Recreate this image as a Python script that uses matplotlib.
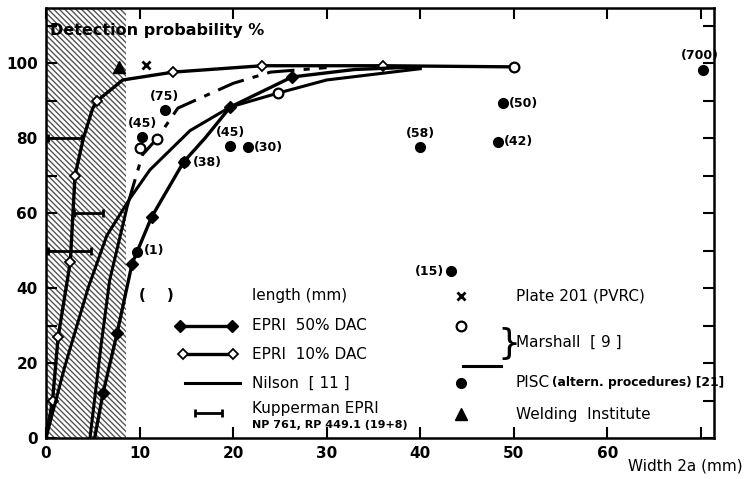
import numpy as np
import matplotlib
matplotlib.use('Agg')
from matplotlib import pyplot as plt

# curves (width 2a in mm, detection probability %)
epri10_x = [0, 0.7, 1.3, 2.6, 3.1, 4.0, 5.0, 5.5, 8.2, 13.6, 23.1, 36, 50]
epri10_y = [0, 10, 27, 47, 70, 80, 88, 90, 95.5, 97.6, 99.3, 99.3, 99]

epri50_x = [5.2, 6.1, 7.6, 9.2, 11.3, 14.7, 17.0, 19.7, 26.3, 33, 40]
epri50_y = [0, 12, 28, 46.5, 59, 73.6, 80, 88.3, 96.3, 98.3, 99]

nilson_x = [0, 2.0, 4.5, 6.5, 9.0, 11.1, 15.4, 19.7, 24.8, 30, 40]
nilson_y = [0, 19, 40, 54, 64, 71.5, 82, 88.3, 92, 95.5, 98.5]

marsh_solid_x = [4.7, 5.9, 6.8, 8.7]
marsh_solid_y = [0, 25, 42, 62]
marsh_dash_x = [8.7, 10.3, 11.9, 14.1, 20, 24, 30]
marsh_dash_y = [62, 75.5, 80, 88, 94.6, 97.6, 98.8]

marsh_pts_x = [10.1, 11.9, 24.8, 50]
marsh_pts_y = [77.3, 79.7, 92, 99]

pisc_x = [10.3, 12.7, 9.7, 14.7, 19.7, 21.6, 40.0, 48.9, 48.3, 43.3, 70.2]
pisc_y = [80.3, 87.5, 49.6, 73.6, 78.0, 77.6, 77.6, 89.3, 79.0, 44.5, 98.1]
pisc_len = ['(45)', '(75)', '(1)', '(38)', '(45)', '(30)', '(58)', '(50)', '(42)', '(15)', '(700)']

kupp_y = [80, 60, 50]
kupp_lo = [0.2, 3.0, 0.2]
kupp_hi = [3.9, 6.1, 4.8]

plate_x, plate_y = [10.7], [99.5]
weld_x, weld_y = [7.8], [99]

# label placement for the bracketed lengths: (dx, dy, ha, va) in points
lab_pos = [(0, 5, 'center', 'bottom'), (0, 5, 'center', 'bottom'), (5, 1, 'left', 'center'),
           (7, 0, 'left', 'center'), (0, 5, 'center', 'bottom'), (4, 0, 'left', 'center'),
           (0, 5, 'center', 'bottom'), (4, 0, 'left', 'center'), (4, 0, 'left', 'center'),
           (-5, 0, 'right', 'center'), (-2, 6, 'center', 'bottom')]

plt.rcParams['font.family'] = 'DejaVu Sans'
fig = plt.figure(figsize=(7.52, 4.79), dpi=100)
ax = fig.add_axes([46/752, 1-438/479, 668/752, 430/479])
ax.set_xlim(0, 71.4)
ax.set_ylim(0, 114.7)

k = 'black'
ax.axvspan(0, 8.6, facecolor='white', edgecolor='#555555', hatch='\\\\\\\\\\\\', lw=0, zorder=0)

ax.plot(epri10_x, epri10_y, color=k, lw=2.4, marker='D', ms=5, mfc='white', mec=k, mew=1.3,
        markevery=[1, 2, 3, 4, 7, 9, 10, 11], zorder=3)
ax.plot(epri50_x, epri50_y, color=k, lw=2.4, marker='D', ms=6, mfc=k, mec=k,
        markevery=[1, 2, 3, 4, 5, 7, 8], zorder=3)
ax.plot(nilson_x, nilson_y, color=k, lw=2.2, zorder=3)
ax.plot(marsh_solid_x, marsh_solid_y, color=k, lw=2.2, zorder=3)
ax.plot(marsh_dash_x, marsh_dash_y, color=k, lw=2.2, dashes=(9, 3, 2, 3), zorder=3)
ax.plot(marsh_pts_x, marsh_pts_y, 'o', ms=7, mfc='white', mec=k, mew=1.6, zorder=4)

for y, lo, hi in zip(kupp_y, kupp_lo, kupp_hi):
    ax.errorbar((lo+hi)/2, y, xerr=(hi-lo)/2, fmt='none', ecolor=k, elinewidth=2, capsize=3, capthick=2, zorder=3)

ax.plot(pisc_x, pisc_y, 'o', ms=7, color=k, zorder=4)
for x, y, s, (dx, dy, ha, va) in zip(pisc_x, pisc_y, pisc_len, lab_pos):
    ax.annotate(s, (x, y), xytext=(dx, dy), textcoords='offset points', ha=ha, va=va,
                fontsize=9, fontweight='bold', zorder=5)

ax.plot(plate_x, plate_y, 'x', ms=6, mew=2, color=k, zorder=4)
ax.plot(weld_x, weld_y, '^', ms=8, color=k, zorder=4)

ax.text(0.4, 108.8, 'Detection probability %', fontsize=11.5, fontweight='bold', va='center', zorder=5)

# legend block
fs = 11
tx1, tx2 = 22.0, 50.2
ax.text(11.8, 37.9, '(    )', fontsize=fs, fontweight='bold', ha='center', va='center')
ax.text(tx1, 37.9, 'length (mm)', fontsize=fs, va='center')
ax.plot([14.3, 19.9], [29.9, 29.9], color=k, lw=2.4, marker='D', ms=6, mfc=k, mec=k)
ax.text(tx1, 29.9, 'EPRI  50% DAC', fontsize=fs, va='center')
ax.plot([14.6, 20.0], [22.4, 22.4], color=k, lw=2.4, marker='D', ms=5, mfc='white', mec=k, mew=1.3)
ax.text(tx1, 22.4, 'EPRI  10% DAC', fontsize=fs, va='center')
ax.plot([14.9, 20.7], [14.7, 14.7], color=k, lw=2.2)
ax.text(tx1, 14.7, 'Nilson  [ 11 ]', fontsize=fs, va='center')
ax.errorbar(17.35, 6.7, xerr=1.45, fmt='none', ecolor=k, elinewidth=2, capsize=3, capthick=2)
ax.text(tx1, 8.0, 'Kupperman EPRI', fontsize=fs, va='center')
ax.text(tx1, 3.4, 'NP 761, RP 449.1 (19+8)', fontsize=8, fontweight='bold', va='center')

ax.plot([44.4], [37.9], 'x', ms=6, mew=2, color=k)
ax.text(tx2, 37.9, 'Plate 201 (PVRC)', fontsize=fs, va='center')
ax.plot([44.4], [29.9], 'o', ms=7, mfc='white', mec=k, mew=1.6)
ax.plot([44.6, 48.6], [19.3, 19.3], color=k, lw=2.2)
ax.text(48.2, 25.0, '}', fontsize=26, va='center', ha='left')
ax.text(tx2, 25.6, 'Marshall  [ 9 ]', fontsize=fs, va='center')
ax.plot([44.4], [14.7], 'o', ms=7, color=k)
ax.text(tx2, 14.7, 'PISC', fontsize=fs, va='center')
ax.text(tx2 + 3.9, 14.7, '(altern. procedures) [21]', fontsize=8.8, fontweight='bold', va='center')
ax.plot([44.4], [6.4], '^', ms=8, color=k)
ax.text(tx2, 6.4, 'Welding  Institute', fontsize=fs, va='center')

ax.set_xticks(range(0, 71, 10))
ax.set_xticklabels(['0', '10', '20', '30', '40', '50', '60', ''])
ax.set_yticks(range(0, 101, 20))
ax.set_yticks(range(10, 111, 20), minor=True)
ax.tick_params(which='both', direction='in', length=8, width=1.5, top=True, right=True,
               labelsize=11, pad=6)
for lab in ax.get_xticklabels() + ax.get_yticklabels():
    lab.set_fontweight('bold')
for sp in ax.spines.values():
    sp.set_linewidth(1.8)

ax.text(0.957, -0.065, 'Width 2a (mm)', transform=ax.transAxes, ha='center', va='center',
        fontsize=11, clip_on=False)

fig.savefig('out.png', dpi=100)
